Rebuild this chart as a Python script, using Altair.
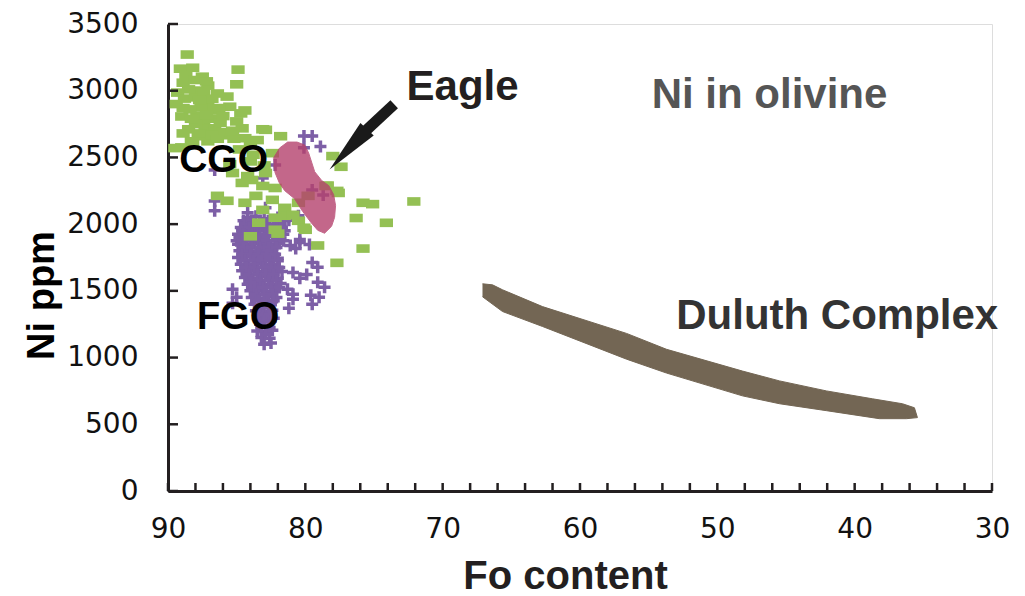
import altair as alt
import pandas as pd

# ---- data ----
green_x = [88.6, 89.1, 88.2, 84.9, 87.5, 85.0, 87.1, 89.3, 87.9, 86.4, 85.7, 88.8, 87.1, 86.7, 84.4,
           84.7, 89.0, 87.9, 87.4, 88.5, 87.3, 86.6, 84.6, 83.1, 85.8, 84.4, 87.8, 81.8, 88.3, 87.1,
           88.9, 88.0, 87.6, 88.4, 86.9, 88.0, 86.2, 85.5, 89.4, 86.0, 85.2, 84.0, 83.5,
           89.0, 88.2, 82.9, 82.4, 85.3, 84.6, 83.9, 83.1, 83.6, 82.2, 82.9, 86.4, 85.7, 84.4, 82.4,
           81.5, 83.1, 80.5, 79.8, 78.5, 77.7, 81.5, 80.5, 82.2, 83.4, 80.0, 82.2,
           78.0, 77.4, 75.1, 75.8, 72.1, 76.3, 74.1, 75.8, 77.7, 79.1, 78.4, 77.6,
           84.0, 82.0, 80.9, 80.1, 85.5, 84.0, 83.0, 84.2, 89.5,
           88.7, 88.0, 87.2, 88.5, 87.4, 86.8, 87.7, 88.9, 86.3, 87.2, 86.0, 88.3, 87.6, 86.8,
           85.0, 85.3, 86.4, 88.9, 84.8, 83.8]
green_y = [3271, 3165, 3172, 3158, 3105, 3048, 3038, 2986, 3001, 2979, 2956, 2941, 2904, 2852, 2852,
           2830, 2807, 2815, 2770, 2711, 2718, 2718, 2718, 2711, 2666, 2644, 2659, 2659, 2621, 2621,
           3060, 2950, 2880, 2860, 2790, 2750, 2760, 2880, 2900, 2690, 2640, 2600, 2630,
           2575, 2600, 2707, 2532, 2383, 2309, 2331, 2286, 2212, 2271, 2383, 2212, 2175, 2160, 2182,
           2122, 2107, 2160, 2212, 2286, 2249, 2063, 2025, 1958, 2011, 1958, 2048,
           2510, 2430, 2150, 2160, 2170, 2046, 2010, 1817, 1710, 1840, 2289, 2234,
           1909, 1929, 2070, 1973, 2450, 2470, 2440, 2360, 2570,
           3120, 3080, 3070, 3010, 2990, 2940, 2930, 2870, 2870, 2820, 2810, 2790, 2680, 2670,
           2770, 2700, 2640, 2680, 2560, 2520]

purple_x = [84.2, 83.6, 83.0, 82.0, 81.2, 84.4, 83.8, 83.2, 82.6, 81.8,
            84.6, 84.0, 83.4, 82.8, 82.2, 81.5, 84.8, 84.2, 83.6, 83.0, 82.4, 81.8,
            84.9, 84.3, 83.7, 83.1, 82.5, 81.9, 84.8, 84.2, 83.6, 83.0, 82.4,
            84.9, 84.3, 83.7, 83.1, 82.5, 82.0, 84.7, 84.1, 83.5, 82.9, 82.3,
            84.6, 84.0, 83.4, 82.8, 82.2, 81.7, 84.4, 83.8, 83.2, 82.6, 82.0,
            84.2, 83.6, 83.0, 82.4, 81.8, 84.0, 83.4, 82.8, 82.2, 83.9, 83.3, 82.7, 82.1,
            83.7, 83.1, 82.5, 83.6, 83.0, 82.4, 83.4, 82.8, 82.3, 83.3, 82.7,
            83.5, 82.9, 82.4, 83.2, 82.6, 83.0, 82.5,
            84.5, 83.9, 83.3, 82.7, 82.1, 81.5,
            84.7, 84.1, 83.5, 82.9, 82.3, 81.7,
            84.9, 84.5, 83.9, 83.3, 82.7, 82.1, 81.6,
            85.0, 84.6, 84.0, 83.4, 82.8, 82.2, 81.6,
            84.5, 83.9, 83.3, 82.7, 82.1,
            84.6, 84.0, 83.4, 82.8, 82.2,
            84.4, 83.8, 83.2, 82.6, 82.0,
            84.3, 83.7, 83.1, 82.5, 81.9,
            84.1, 83.5, 82.9, 82.3,
            83.9, 83.3, 82.7, 82.1,
            83.7, 83.1, 82.5, 81.9,
            83.6, 83.0, 82.4,
            83.4, 82.8, 82.3,
            83.3, 82.7, 83.1, 82.6, 83.0, 82.5, 83.2, 82.6, 82.9,
            86.6, 86.6, 86.6, 83.1, 82.2, 84.2, 82.9, 81.5, 80.5, 80.4,
            81.1, 80.4, 79.5, 80.9, 79.9, 79.1, 79.6, 81.3, 80.9, 85.3, 85.0, 84.0,
            80.7, 79.7, 79.1, 80.4, 78.6, 79.0, 79.5, 80.9, 85.3, 81.2,
            80.1, 79.5, 78.9, 80.1, 79.5, 78.7]
purple_y = [2050, 2060, 2040, 2050, 2030, 2000, 1990, 2005, 1995, 2000,
            1950, 1945, 1955, 1950, 1940, 1950, 1900, 1905, 1895, 1900, 1910, 1895,
            1850, 1845, 1855, 1850, 1845, 1855, 1800, 1805, 1795, 1800, 1810,
            1750, 1755, 1745, 1750, 1755, 1745, 1700, 1695, 1705, 1700, 1695,
            1650, 1655, 1645, 1650, 1655, 1645, 1600, 1595, 1605, 1600, 1595,
            1550, 1555, 1545, 1550, 1555, 1500, 1505, 1495, 1500, 1450, 1445, 1455, 1450,
            1400, 1405, 1395, 1350, 1345, 1355, 1300, 1305, 1295, 1250, 1245,
            1200, 1195, 1205, 1150, 1145, 1100, 1110,
            2025, 2025, 2025, 2025, 2025, 2025,
            1975, 1975, 1975, 1975, 1975, 1975,
            1925, 1925, 1925, 1925, 1925, 1925, 1925,
            1875, 1875, 1875, 1875, 1875, 1875, 1875,
            1825, 1825, 1825, 1825, 1825,
            1775, 1775, 1775, 1775, 1775,
            1725, 1725, 1725, 1725, 1725,
            1675, 1675, 1675, 1675, 1675,
            1625, 1625, 1625, 1625,
            1575, 1575, 1575, 1575,
            1525, 1525, 1525, 1525,
            1475, 1475, 1475,
            1425, 1425, 1425,
            1375, 1375, 1325, 1325, 1275, 1275, 1225, 1225, 1175,
            2405, 2174, 2100, 2346, 2443, 2085, 2122, 2100, 2063, 1884,
            1839, 1862, 1713, 1638, 1623, 1564, 1467, 1512, 1437, 1512, 1452, 1564,
            1817, 1847, 1676, 1594, 1527, 1452, 1400, 1474, 1407, 1370,
            2660, 2660, 2581, 2572, 2256, 2219]

eagle_x = [82.33, 81.87, 81.29, 80.6, 80.05, 79.76, 79.32, 78.8, 78.3, 77.94, 77.8, 77.87,
           78.09, 78.6, 79.1, 79.6, 80.2, 80.8, 81.5, 81.9, 82.2, 82.3]
eagle_y = [2493, 2571, 2615, 2615, 2593, 2534, 2393, 2326, 2289, 2222, 2140, 2051,
           1984, 1932, 1954, 2014, 2096, 2192, 2251, 2311, 2385, 2444]

duluth_x = [67.10, 66.37, 65.64, 62.73, 56.61, 53.70, 48.17, 45.47, 42.05, 38.70, 36.52, 35.65,
            35.43, 36.23, 38.20, 42.05, 45.47, 48.17, 53.70, 56.61, 62.73, 65.64, 67.10]
duluth_y = [1553, 1545, 1508, 1382, 1181, 1062, 899, 825, 750, 691, 654, 624,
            550, 542, 542, 602, 654, 713, 884, 988, 1233, 1345, 1456]

label_text = ["Eagle", "Ni in olivine", "CGO", "FGO", "Duluth Complex"]
label_x = [68.55, 46.2, 85.95, 84.9, 41.27]
label_y = [3031, 2965, 2482, 1300, 1308]
label_size = [42, 42, 39, 38, 42]
label_color = ["#231f20", "#555555", "#000000", "#000000", "#333333"]

arrow_shaft_x = [73.53, 75.7]
arrow_shaft_y = [2898, 2690]
arrow_head_x = [76.87]
arrow_head_y = [2560]

x_ticks = [90, 80, 70, 60, 50, 40, 30]
x_minor = [90, 88, 86, 84, 82, 80, 78, 76, 74, 72, 70, 68, 66, 64, 62, 60, 58, 56, 54, 52,
           50, 48, 46, 44, 42, 40, 38, 36, 34, 32, 30]
y_ticks = [0, 500, 1000, 1500, 2000, 2500, 3000, 3500]

# ---- scales ----
xs = alt.Scale(domain=[90, 30], nice=False, zero=False)
ys = alt.Scale(domain=[0, 3500], nice=False, zero=False)

xaxis = alt.Axis(values=x_ticks, ticks=False, grid=False, domainColor="#231f20", domainWidth=3,
                 labelFont="DejaVu Sans", labelFontSize=28, labelColor="#111111", labelPadding=24,
                 labelFlush=False, format="d",
                 title="Fo content", titleFont="Liberation Sans", titleFontSize=40,
                 titleFontWeight="bold", titleColor="#231f20", titleX=397, titleY=97,
                 titleBaseline="alphabetic")
yaxis = alt.Axis(values=y_ticks, ticks=False, grid=False, domainColor="#231f20", domainWidth=3,
                 labelFont="DejaVu Sans", labelFontSize=28, labelColor="#111111", labelPadding=30,
                 labelFlush=False, format="d",
                 title="Ni ppm", titleFont="Liberation Sans", titleFontSize=38,
                 titleFontWeight="bold", titleColor="#000000", titleX=-115, titleY=271,
                 titleBaseline="alphabetic", titleAlign="center", titleAngle=270)

X = lambda f: alt.X(f, type="quantitative", scale=xs, axis=xaxis)
Y = lambda f: alt.Y(f, type="quantitative", scale=ys, axis=yaxis)

duluth_df = pd.DataFrame({"x": duluth_x, "y": duluth_y, "i": range(len(duluth_x))})
duluth = alt.Chart(duluth_df).mark_line(fill="#736654", stroke="#736654", strokeWidth=1).encode(
    x=X("x"), y=Y("y"), order="i:Q")

purple_df = pd.DataFrame({"x": purple_x, "y": purple_y})
purple = alt.Chart(purple_df).mark_point(
    shape="M-1,0L1,0M0,-1L0,1", filled=False, size=144, strokeWidth=3.5, color="#7d5fa6", opacity=1
).encode(x=X("x"), y=Y("y"))

green_df = pd.DataFrame({"x": green_x, "y": green_y})
green = alt.Chart(green_df).mark_point(
    shape="M-1,-0.65L1,-0.65L1,0.65L-1,0.65Z", filled=True, size=176, color="#94c054", opacity=1
).encode(x=X("x"), y=Y("y"))

eagle_df = pd.DataFrame({"x": eagle_x, "y": eagle_y, "i": range(len(eagle_x))})
eagle = alt.Chart(eagle_df).mark_line(fill="#b5426d", stroke="#b5426d", strokeWidth=1,
                                      opacity=0.8).encode(x=X("x"), y=Y("y"), order="i:Q")

shaft_df = pd.DataFrame({"x": [arrow_shaft_x[0]], "y": [arrow_shaft_y[0]],
                         "x2": [arrow_shaft_x[1]], "y2": [arrow_shaft_y[1]]})
shaft = alt.Chart(shaft_df).mark_rule(strokeWidth=11, color="#1a1a1a", strokeCap="butt").encode(
    x=X("x"), y=Y("y"), x2="x2", y2="y2")
head_df = pd.DataFrame({"x": arrow_head_x, "y": arrow_head_y})
head = alt.Chart(head_df).mark_point(
    shape="M0,-1L0.33,1L-0.33,1Z", filled=True, size=3025, angle=223, color="#1a1a1a", opacity=1
).encode(x=X("x"), y=Y("y"))

text_df = pd.DataFrame({"x": label_x, "y": label_y, "t": label_text, "c": label_color,
                        "s": label_size})
texts = alt.Chart(text_df).mark_text(font="Liberation Sans", fontWeight="bold",
                                     align="center", baseline="middle").encode(
    x=X("x"), y=Y("y"), text="t:N", color=alt.Color("c:N", scale=None),
    size=alt.Size("s:Q", scale=None))

xt_df = pd.DataFrame({"x": x_minor, "y0": [0] * len(x_minor), "y1": [60] * len(x_minor)})
xtick = alt.Chart(xt_df).mark_rule(strokeWidth=2.5, color="#231f20").encode(
    x=X("x"), y=Y("y0"), y2="y1")
yt_df = pd.DataFrame({"y": y_ticks, "x0": [90] * len(y_ticks), "x1": [89.27] * len(y_ticks)})
ytick = alt.Chart(yt_df).mark_rule(strokeWidth=2.5, color="#231f20").encode(
    y=Y("y"), x=X("x0"), x2="x1")

chart = alt.layer(duluth, purple, green, eagle, shaft, head, xtick, ytick, texts).properties(
    width=824, height=467,
    padding={"left": 160, "top": 16, "right": 20, "bottom": 104},
    autosize="none",
).configure_view(stroke=None).configure(background="white")

chart.save("out.html", embed_options={"renderer": "svg", "actions": False})
